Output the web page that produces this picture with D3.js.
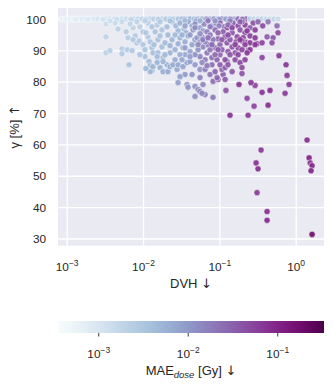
<!DOCTYPE html>
<html>
<head>
<meta charset="utf-8">
<script src="https://cdn.jsdelivr.net/npm/d3@7"></script>
<style>
  body { margin: 0; background: #fff; }
  text { font-family: "Liberation Sans", Arial, sans-serif; fill: #262626; }
</style>
</head>
<body>
<svg id="chart" width="333" height="387"></svg>
<script>
// points on the gamma = 100 row
const dvhTop = [
  0.00087, 0.00098, 0.0011, 0.00125, 0.00141, 0.00159, 0.00179, 0.00202, 0.00228, 0.00257,
  0.0029, 0.00327, 0.00369, 0.00417, 0.0047, 0.0053, 0.006, 0.0068, 0.0076, 0.0086,
  0.0097, 0.0109, 0.0124, 0.0139, 0.0157, 0.0177, 0.02, 0.0226, 0.0255, 0.0288,
  0.0324, 0.0366, 0.0413, 0.0466, 0.0526, 0.0593, 0.067, 0.0755, 0.0852, 0.096,
  0.108, 0.122, 0.138, 0.156, 0.176, 0.198, 0.224, 0.252, 0.285, 0.321,
  0.362, 0.409, 0.461, 0.521, 0.587, 0.0013, 0.0019, 0.003, 0.0045, 0.007,
  0.011, 0.016, 0.024, 0.035, 0.05, 0.07, 0.1, 0.14, 0.2];
const gammaTop = [
  100, 100, 100, 100, 100, 100, 100, 100, 100, 100,
  100, 100, 100, 100, 100, 100, 100, 100, 100, 100,
  100, 100, 100, 100, 100, 100, 100, 100, 100, 100,
  100, 100, 100, 100, 100, 100, 100, 100, 100, 100,
  100, 100, 100, 100, 100, 100, 100, 100, 100, 100,
  100, 100, 100, 100, 100, 99.8, 99.8, 99.8, 99.8, 99.8,
  99.8, 99.8, 99.8, 99.8, 99.8, 99.8, 99.8, 99.8, 99.8];
const maeTop = [
  0.0006, 0.00065, 0.0007, 0.00075, 0.0008, 0.00085, 0.0009, 0.00095, 0.001, 0.0011,
  0.0011, 0.0012, 0.0013, 0.0013, 0.0014, 0.0015, 0.0016, 0.0017, 0.0018, 0.0019,
  0.002, 0.0021, 0.0022, 0.0023, 0.0024, 0.0025, 0.0027, 0.0028, 0.003, 0.0032,
  0.0045, 0.0035, 0.006, 0.0042, 0.009, 0.005, 0.012, 0.006, 0.015, 0.007,
  0.018, 0.008, 0.02, 0.006, 0.025, 0.005, 0.03, 0.0025, 0.002, 0.0018,
  0.002, 0.0016, 0.0015, 0.0018, 0.0015, 0.0008, 0.0009, 0.0012, 0.0015, 0.0018,
  0.0024, 0.003, 0.004, 0.008, 0.005, 0.02, 0.01, 0.035, 0.04];

// band just under 100
const dvhBand = [
  0.00327, 0.0043, 0.0047, 0.006, 0.0074, 0.0091, 0.01, 0.0144, 0.0153, 0.0177,
  0.0206, 0.0212, 0.00369, 0.0053, 0.0068, 0.0083, 0.0116, 0.0131, 0.024, 0.027,
  0.0305, 0.0344, 0.0389, 0.0439, 0.0494, 0.0558, 0.063, 0.0711, 0.08, 0.0905,
  0.102, 0.115, 0.126, 0.151, 0.176, 0.187, 0.217, 0.277, 0.321, 0.435,
  0.57, 0.0288, 0.0366, 0.0452, 0.061, 0.0755, 0.147, 0.217, 0.252, 0.0226,
  0.0355, 0.0558, 0.0879, 0.138, 0.0167, 0.0106, 0.048, 0.099, 0.13, 0.198,
  0.37];
const gammaBand = [
  98.4, 98.7, 96.8, 95.9, 97.2, 97.5, 95.9, 95.9, 98.1, 96.5,
  97.5, 94.9, 99.4, 99.1, 98.4, 99.1, 98.7, 97.5, 99.1, 97.8,
  98.7, 96.8, 99.1, 97.8, 99.1, 97.2, 98.4, 99.4, 97.8, 98.7,
  98.7, 97.5, 97.2, 98.7, 97.8, 96.5, 98.1, 98.7, 99.1, 99.1,
  97.8, 96.2, 95.6, 96.5, 96.2, 97.5, 95.6, 95.6, 97.2, 99.4,
  99.4, 99.4, 99.4, 99.4, 99.1, 99.4, 98.4, 97.8, 98.1, 99.1,
  97.8];
const maeBand = [
  0.0015, 0.0016, 0.0022, 0.0025, 0.002, 0.0022, 0.003, 0.0035, 0.0028, 0.0032,
  0.004, 0.0045, 0.0013, 0.0016, 0.0019, 0.002, 0.0025, 0.003, 0.004, 0.005,
  0.006, 0.005, 0.009, 0.007, 0.012, 0.008, 0.015, 0.018, 0.012, 0.025,
  0.03, 0.022, 0.045, 0.035, 0.05, 0.04, 0.06, 0.045, 0.03, 0.02,
  0.025, 0.005, 0.006, 0.01, 0.009, 0.02, 0.04, 0.05, 0.035, 0.0035,
  0.0045, 0.006, 0.01, 0.015, 0.0028, 0.0022, 0.011, 0.016, 0.028, 0.04,
  0.05];

// blue cloud, upper left
const dvhBlue = [
  0.00327, 0.00327, 0.00369, 0.0053, 0.0053, 0.0062, 0.0072, 0.0083, 0.0089, 0.01,
  0.0106, 0.0116, 0.0124, 0.0131, 0.0135, 0.0157, 0.0177, 0.0194, 0.0183, 0.0157,
  0.0167, 0.024, 0.0263, 0.0226, 0.0263, 0.0288, 0.0305, 0.0334, 0.0355, 0.0389,
  0.0413, 0.0439, 0.048, 0.051, 0.0558, 0.0355, 0.0305, 0.0226, 0.0106, 0.0091,
  0.0079, 0.00636, 0.0074, 0.0109, 0.0139];
const gammaBlue = [
  94.3, 89.2, 89.9, 90.5, 88.9, 90.2, 89.9, 92.4, 93.0, 91.8,
  90.2, 94.3, 92.7, 90.8, 89.2, 89.2, 91.1, 92.4, 87.7, 93.4,
  94.6, 93.4, 94.9, 91.5, 90.2, 92.1, 94.0, 90.8, 92.7, 94.6,
  89.6, 91.8, 93.4, 94.0, 92.7, 88.6, 88.6, 89.2, 88.0, 88.6,
  94.6, 94.0, 93.4, 95.6, 91.8];
const maeBlue = [
  0.002, 0.0022, 0.0024, 0.0025, 0.0028, 0.0026, 0.003, 0.003, 0.0028, 0.0032,
  0.0035, 0.003, 0.0034, 0.0036, 0.004, 0.0042, 0.004, 0.0045, 0.005, 0.0038,
  0.0036, 0.005, 0.0048, 0.0055, 0.006, 0.006, 0.0055, 0.007, 0.0065, 0.007,
  0.008, 0.008, 0.009, 0.01, 0.011, 0.0075, 0.0065, 0.0055, 0.0038, 0.0034,
  0.0026, 0.0025, 0.0028, 0.003, 0.0038];

// lower blue points
const dvhLow = [
  0.00655, 0.012, 0.0124, 0.0131, 0.0157, 0.0167, 0.0183, 0.0206, 0.0212, 0.0124,
  0.0135, 0.0153, 0.0183, 0.0226, 0.0247, 0.0279, 0.0288, 0.0334, 0.0377, 0.0288,
  0.0377, 0.0389, 0.0439, 0.048, 0.0526, 0.061, 0.0558, 0.065, 0.048, 0.0593,
  0.0826, 0.0263, 0.0324, 0.0413, 0.048, 0.0558, 0.0355, 0.0305, 0.0153, 0.0194,
  0.0109];
const gammaLow = [
  85.4, 86.4, 85.1, 83.5, 86.4, 84.5, 83.2, 85.4, 83.2, 83.2,
  84.8, 86.1, 86.4, 84.8, 85.4, 83.9, 85.4, 84.8, 86.1, 79.7,
  79.1, 78.2, 82.3, 78.5, 77.5, 79.1, 76.9, 75.9, 75.3, 76.3,
  75.0, 87.0, 87.0, 86.4, 85.4, 83.9, 82.3, 81.6, 88.0, 88.6,
  84.2];
const maeLow = [
  0.0035, 0.0045, 0.005, 0.0055, 0.005, 0.006, 0.0065, 0.006, 0.007, 0.005,
  0.0055, 0.0048, 0.0055, 0.0065, 0.007, 0.0075, 0.007, 0.008, 0.008, 0.009,
  0.01, 0.011, 0.012, 0.012, 0.014, 0.015, 0.016, 0.018, 0.013, 0.015,
  0.02, 0.0065, 0.0075, 0.009, 0.01, 0.012, 0.01, 0.009, 0.0045, 0.005,
  0.0048];

// dense middle, blue-purple to purple
const dvhMid = [
  0.171, 0.217, 0.252, 0.312, 0.363, 0.187, 0.112, 0.0962, 0.126, 0.147,
  0.161, 0.187, 0.198, 0.198, 0.0826, 0.0962, 0.112, 0.108, 0.126, 0.08,
  0.069, 0.0879, 0.061, 0.0593, 0.069, 0.231, 0.205, 0.198, 0.217, 0.294,
  0.238, 0.363, 0.605, 0.506, 0.422, 0.49, 0.587, 0.161, 0.13, 0.102,
  0.08, 0.065, 0.0558, 0.048, 0.0711, 0.0826, 0.102, 0.119, 0.138, 0.176,
  0.138, 0.0933, 0.119, 0.147, 0.065, 0.0755, 0.0558, 0.176, 0.108, 0.0755,
  0.0879, 0.166, 0.252, 0.294, 0.119, 0.0933, 0.0324, 0.0526, 0.065, 0.0755,
  0.0879, 0.0558, 0.0962, 0.217];
const gammaMid = [
  94.3, 92.7, 92.4, 92.1, 92.4, 99.1, 95.9, 93.7, 92.4, 91.1,
  87.0, 86.1, 84.5, 82.6, 80.1, 80.7, 82.3, 83.9, 86.4, 87.7,
  89.2, 90.8, 91.1, 94.3, 95.9, 96.2, 94.0, 93.0, 91.8, 91.8,
  89.9, 87.7, 88.3, 94.0, 94.3, 92.4, 95.6, 89.2, 89.6, 88.6,
  85.4, 87.0, 88.0, 88.6, 91.8, 93.4, 91.8, 94.3, 93.4, 90.8,
  88.6, 87.0, 84.5, 83.2, 83.9, 82.3, 81.3, 88.6, 90.2, 94.9,
  96.5, 92.7, 94.6, 94.0, 80.7, 81.3, 94.9, 90.2, 92.7, 90.2,
  88.6, 95.3, 95.6, 87.0];
const maeMid = [
  0.05, 0.06, 0.07, 0.065, 0.06, 0.03, 0.035, 0.03, 0.04, 0.045,
  0.05, 0.055, 0.05, 0.045, 0.025, 0.03, 0.035, 0.03, 0.04, 0.025,
  0.02, 0.025, 0.015, 0.014, 0.018, 0.07, 0.065, 0.055, 0.06, 0.075,
  0.065, 0.06, 0.07, 0.04, 0.035, 0.045, 0.05, 0.045, 0.04, 0.03,
  0.025, 0.02, 0.016, 0.013, 0.02, 0.022, 0.03, 0.035, 0.04, 0.05,
  0.042, 0.03, 0.035, 0.04, 0.018, 0.022, 0.016, 0.055, 0.035, 0.02,
  0.025, 0.045, 0.06, 0.07, 0.04, 0.028, 0.006, 0.012, 0.016, 0.022,
  0.028, 0.013, 0.03, 0.06];

// extra points filling the densest part
const dvhDense = [
  0.0355, 0.0413, 0.048, 0.0526, 0.061, 0.0711, 0.08, 0.0962, 0.108, 0.119,
  0.13, 0.147, 0.161, 0.187, 0.198, 0.13, 0.102, 0.0879, 0.0413, 0.0355,
  0.0593, 0.069, 0.252, 0.294];
const gammaDense = [
  97.8, 94.9, 97.2, 91.8, 93.4, 94.0, 91.8, 90.2, 93.4, 87.0,
  94.9, 97.2, 91.8, 93.4, 90.2, 85.4, 85.4, 83.2, 88.0, 90.8,
  86.1, 85.1, 90.2, 96.5];
const maeDense = [
  0.008, 0.01, 0.014, 0.015, 0.018, 0.025, 0.03, 0.035, 0.04, 0.045,
  0.05, 0.055, 0.06, 0.07, 0.06, 0.04, 0.035, 0.03, 0.01, 0.009,
  0.014, 0.02, 0.075, 0.065];

// scattered purple outliers
const dvhOut = [
  0.231, 0.748, 0.771, 0.819, 0.726, 0.461, 0.363, 0.294, 0.26, 0.181,
  0.122, 0.231, 0.285, 0.435, 0.138, 0.238, 1.41, 0.352, 1.5, 0.303,
  0.321, 1.55, 1.64, 1.59, 0.312, 0.422, 0.422, 1.64];
const gammaOut = [
  89.2, 85.4, 82.0, 79.1, 76.3, 77.2, 76.6, 78.8, 79.7, 79.1,
  77.2, 74.7, 72.2, 72.5, 69.3, 69.3, 61.4, 58.2, 55.7, 54.1,
  52.2, 54.1, 53.2, 51.6, 44.6, 38.6, 35.8, 31.3];
const maeOut = [
  0.07, 0.08, 0.07, 0.065, 0.07, 0.09, 0.08, 0.06, 0.07, 0.08,
  0.045, 0.055, 0.06, 0.09, 0.08, 0.07, 0.09, 0.075, 0.12, 0.08,
  0.09, 0.08, 0.1, 0.11, 0.07, 0.09, 0.1, 0.2];

const xTicks = [1e-3, 1e-2, 1e-1, 1];
const yTicks = [30, 40, 50, 60, 70, 80, 90, 100];
const cTicks = [1e-3, 1e-2, 1e-1];

const groups = [
  [dvhTop, gammaTop, maeTop],
  [dvhBand, gammaBand, maeBand],
  [dvhBlue, gammaBlue, maeBlue],
  [dvhLow, gammaLow, maeLow],
  [dvhMid, gammaMid, maeMid],
  [dvhDense, gammaDense, maeDense],
  [dvhOut, gammaOut, maeOut]
];
const points = groups.flatMap(([d, g, m]) => d.map((v, i) => ({dvh: v, gamma: g[i], mae: m[i]})));

var svg = d3.select("#chart"),
    margin = {top: 8, right: 9, bottom: 141.3, left: 58},
    width = +svg.attr("width") - margin.left - margin.right,
    height = +svg.attr("height") - margin.top - margin.bottom;

const xScale = d3.scaleLog().domain([0.000769, 2.35]).range([margin.left, margin.left + width]);
const yScale = d3.scaleLinear().domain([27.7, 103.5]).range([margin.top + height, margin.top]);
const color = d3.scaleSequentialLog(d3.interpolateBuPu).domain([0.000355, 0.333]);

// plot background
svg.append("rect")
  .attr("x", margin.left).attr("y", margin.top)
  .attr("width", width).attr("height", height)
  .attr("fill", "#eaeaf2");

// grid lines
const gx = svg.append("g")
  .attr("transform", `translate(0,${margin.top + height})`)
  .call(d3.axisBottom(xScale).tickValues(xTicks).tickSize(-height).tickFormat(""));
const gy = svg.append("g")
  .attr("transform", `translate(${margin.left},0)`)
  .call(d3.axisLeft(yScale).tickValues(yTicks).tickSize(-width).tickFormat(""));
[gx, gy].forEach(g => {
  g.select(".domain").remove();
  g.selectAll(".tick line").attr("stroke", "#fff").attr("stroke-width", 1.3);
});

// power-of-ten labels
function powLabel(sel, v) {
  const e = Math.round(Math.log10(v));
  sel.append("tspan").text("10");
  sel.append("tspan").attr("dy", -5.5).attr("font-size", "8.5px")
    .text(String(e).replace("-", "\u2212"));
}

gx.selectAll(".tick").append("text")
  .attr("y", 25.5).attr("text-anchor", "middle").attr("font-size", "11.8px")
  .each(function(d) { powLabel(d3.select(this), d); });

gy.selectAll(".tick").append("text")
  .attr("x", -12).attr("dy", "0.35em").attr("text-anchor", "end").attr("font-size", "11.8px")
  .text(d => d);

// scatter
svg.append("g")
  .selectAll("circle")
  .data(points)
  .join("circle")
  .attr("cx", d => xScale(d.dvh))
  .attr("cy", d => yScale(d.gamma))
  .attr("r", 3.1)
  .attr("fill", d => color(d.mae))
  .attr("fill-opacity", 0.9)
  .attr("stroke", "#fff")
  .attr("stroke-width", 0.5);

// axis titles (arrows in DejaVu, which draws them full height)
const xl = svg.append("text")
  .attr("x", margin.left + width / 2).attr("y", 288)
  .attr("text-anchor", "middle").attr("font-size", "13px");
xl.append("tspan").text("DVH  ");
xl.append("tspan").attr("font-family", "DejaVu Sans").text("\u2193");

const yl = svg.append("text")
  .attr("transform", `translate(19,${margin.top + height / 2}) rotate(-90)`)
  .attr("text-anchor", "middle").attr("font-size", "13px");
yl.append("tspan").text("\u03b3 [%]  ");
yl.append("tspan").attr("font-family", "DejaVu Sans").text("\u2191");

// colorbar
const cbTop = 321, cbH = 12;
const cScale = d3.scaleLog().domain(color.domain()).range([margin.left, margin.left + width]);
const grad = svg.append("defs").append("linearGradient").attr("id", "cbar");
grad.selectAll("stop")
  .data(d3.range(0, 1.0001, 0.05))
  .join("stop")
  .attr("offset", t => t)
  .attr("stop-color", t => color.interpolator()(t));
svg.append("rect")
  .attr("x", margin.left).attr("y", cbTop)
  .attr("width", width).attr("height", cbH)
  .attr("fill", "url(#cbar)");

const gc = svg.append("g")
  .attr("transform", `translate(0,${cbTop + cbH})`)
  .call(d3.axisBottom(cScale).tickValues(cTicks).tickSize(3.5).tickFormat(""));
gc.select(".domain").remove();
gc.selectAll(".tick line").attr("stroke", "#262626").attr("stroke-width", 0.9);
gc.selectAll(".tick").append("text")
  .attr("y", 25).attr("text-anchor", "middle").attr("font-size", "11.8px")
  .each(function(d) { powLabel(d3.select(this), d); });

const cl = svg.append("text")
  .attr("x", margin.left + width / 2).attr("y", 375)
  .attr("text-anchor", "middle").attr("font-size", "13px");
cl.append("tspan").text("MAE");
cl.append("tspan").attr("dy", 3).attr("font-size", "9.5px").attr("font-style", "italic").text("dose");
cl.append("tspan").attr("dy", -3).text(" [Gy]  ");
cl.append("tspan").attr("font-family", "DejaVu Sans").text("\u2193");
</script>
</body>
</html>
